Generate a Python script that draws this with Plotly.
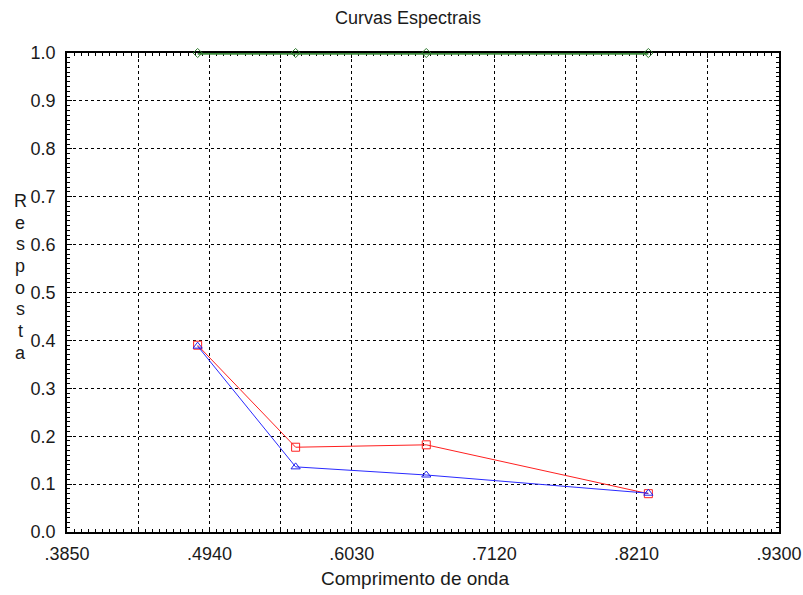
import plotly.graph_objects as go

# Data
wavelengths = [0.485, 0.560, 0.660, 0.830]
green_vals = [1.0, 1.0, 1.0, 1.0]
red_vals = [0.390, 0.177, 0.182, 0.080]
blue_vals = [0.388, 0.136, 0.119, 0.081]

x_tickvals = [0.385, 0.4395, 0.494, 0.5485, 0.603, 0.6575, 0.712, 0.7665, 0.821, 0.8755, 0.930]
x_ticktext = [".3850", "", ".4940", "", ".6030", "", ".7120", "", ".8210", "", ".9300"]
y_tickvals = [0.0, 0.1, 0.2, 0.3, 0.4, 0.5, 0.6, 0.7, 0.8, 0.9, 1.0]
y_ticktext = ["0.0", "0.1", "0.2", "0.3", "0.4", "0.5", "0.6", "0.7", "0.8", "0.9", "1.0"]

title_text = "Curvas Espectrais"
x_title = "Comprimento de onda"
y_title = "Resposta"

FONT = "Liberation Sans, Arial, sans-serif"
TXT = "#1a1a1a"

fig = go.Figure()
fig.add_trace(go.Scatter(
    x=wavelengths, y=green_vals, mode="lines+markers",
    line=dict(color="#3c8c3c", width=3.5),
    marker=dict(symbol="diamond-open", size=7, color="#2f7a2f", line=dict(width=1)),
    cliponaxis=False, showlegend=False))
fig.add_trace(go.Scatter(
    x=wavelengths, y=red_vals, mode="lines+markers",
    line=dict(color="#ff2020", width=1),
    marker=dict(symbol="square-open", size=8, color="#ff2020", line=dict(width=1)),
    showlegend=False))
fig.add_trace(go.Scatter(
    x=wavelengths, y=blue_vals, mode="lines+markers",
    line=dict(color="#2a2aff", width=1),
    marker=dict(symbol="triangle-up-open", size=8, color="#2020ee", line=dict(width=1)),
    showlegend=False))

axis_common = dict(
    showline=True, linecolor="black", linewidth=1.5, mirror="ticks",
    ticks="inside", ticklen=5, tickcolor="black", tickwidth=1,
    showgrid=True, gridcolor="black", gridwidth=1, griddash="3px,3px",
    zeroline=False, tickfont=dict(family=FONT, size=18, color=TXT),
    automargin=False, layer="below traces",
)

fig.update_xaxes(
    range=[0.385, 0.930], tickmode="array", tickvals=x_tickvals, ticktext=x_ticktext,
    ticklabelstandoff=5,
    minor=dict(tickmode="linear", tick0=0.385, dtick=0.00545, ticks="inside",
               ticklen=3, tickcolor="black", tickwidth=1, showgrid=False),
    **axis_common)
fig.update_yaxes(
    range=[0.0, 1.0], tickmode="array", tickvals=y_tickvals, ticktext=y_ticktext,
    ticklabelstandoff=6,
    minor=dict(tickmode="linear", tick0=0.0, dtick=0.01, ticks="inside",
               ticklen=3, tickcolor="black", tickwidth=1, showgrid=False),
    **axis_common)

L, R, T, B = 67, 24, 53, 63
W, H = 803, 595
ph = H - T - B

annotations = [
    dict(text=x_title, xref="paper", yref="paper", x=0.489, y=(532 - 578) / ph,
         showarrow=False, xanchor="center", yanchor="middle",
         font=dict(family=FONT, size=19, color=TXT)),
]
for i, ch in enumerate(y_title):
    ypx = 201 + i * 21.7
    annotations.append(dict(text=ch, xref="paper", yref="paper",
                            x=(20 - L) / (W - L - R), y=(H - B - ypx) / ph,
                            showarrow=False, xanchor="center", yanchor="middle",
                            font=dict(family=FONT, size=18, color=TXT)))

fig.update_layout(
    width=W, height=H,
    margin=dict(l=L, r=R, t=T, b=B),
    paper_bgcolor="white", plot_bgcolor="white",
    title=dict(text=title_text, x=408 / W, xanchor="center", xref="container",
               y=1 - 18 / H, yanchor="middle", yref="container",
               font=dict(family=FONT, size=18, color=TXT)),
    annotations=annotations,
)

fig.write_html("out.html", config={"displayModeBar": False},
               post_script="document.body.style.margin='0';document.body.style.overflow='hidden';")
